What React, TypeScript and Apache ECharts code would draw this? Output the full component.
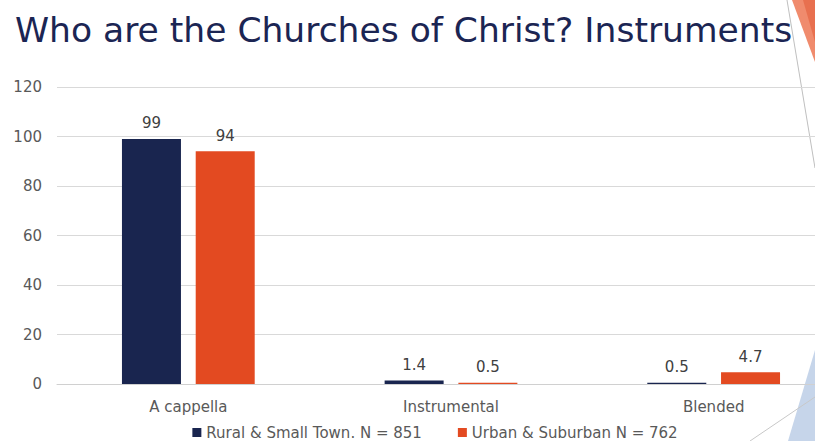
import React, { useEffect, useRef } from "react";
import * as echarts from "echarts";

const categories = ["A cappella", "Instrumental", "Blended"];
const seriesNames = ["Rural & Small Town. N = 851", "Urban & Suburban N = 762"];
const ruralValues = [99, 1.4, 0.5];
const urbanValues = [94, 0.5, 4.7];
const yTicks = { min: 0, max: 120, interval: 20 };
const titleText = "Who are the Churches of Christ? Instruments";

const NAVY = "#19254f";
const ORANGE = "#e34a21";
const FONT = "Tahoma, 'DejaVu Sans', Verdana, sans-serif";

export default function App() {
  const ref = useRef<HTMLDivElement>(null);
  useEffect(() => {
    if (!ref.current) return;
    const chart = echarts.init(ref.current, undefined, { renderer: "svg" });
    const labelStyle = { show: true, position: "top", distance: 8, fontFamily: FONT, fontSize: 15, color: "#404040" };
    chart.setOption({
      animation: false,
      backgroundColor: "#ffffff",
      title: {
        text: titleText,
        left: 15,
        top: 12,
        padding: 0,
        textStyle: { fontFamily: FONT, fontSize: 34.5, fontWeight: "normal", color: "#1b2553" },
      },
      grid: { left: 57, right: 25, top: 87, bottom: 57 },
      legend: {
        top: 420,
        left: "center",
        icon: "rect",
        itemWidth: 9,
        itemHeight: 9,
        itemGap: 36,
        textStyle: { fontFamily: FONT, fontSize: 15, color: "#595959" },
        data: seriesNames,
      },
      xAxis: {
        type: "category",
        data: categories,
        axisLine: { show: true, lineStyle: { color: "#d0d0d0" } },
        axisTick: { show: false },
        axisLabel: { fontFamily: FONT, fontSize: 15, color: "#595959", margin: 15 },
      },
      yAxis: {
        type: "value",
        min: yTicks.min,
        max: yTicks.max,
        interval: yTicks.interval,
        axisLine: { show: false },
        axisTick: { show: false },
        axisLabel: { fontFamily: FONT, fontSize: 15, color: "#595959", margin: 15 },
        splitLine: { lineStyle: { color: "#d9d9d9" } },
      },
      series: [
        {
          name: seriesNames[0],
          type: "bar",
          data: ruralValues,
          barWidth: 59,
          barGap: "25%",
          itemStyle: { color: NAVY },
          label: labelStyle,
        },
        {
          name: seriesNames[1],
          type: "bar",
          data: urbanValues,
          barWidth: 59,
          barGap: "25%",
          itemStyle: { color: ORANGE },
          label: labelStyle,
        },
      ],
      graphic: [
        { type: "polygon", z: 0, shape: { points: [[792, 0], [815, 0], [815, 62]] }, style: { fill: "#f08b6d" } },
        { type: "polygon", z: 0, shape: { points: [[803, 0], [815, 0], [815, 42]] }, style: { fill: "#e8704f" } },
        { type: "line", z: 0, shape: { x1: 787, y1: 0, x2: 815, y2: 168 }, style: { stroke: "#bfbfbf", lineWidth: 1 } },
        { type: "polygon", z: 0, shape: { points: [[815, 350], [815, 441], [788, 441]] }, style: { fill: "#c6d5ea" } },
        { type: "line", z: 0, shape: { x1: 750, y1: 441, x2: 815, y2: 397 }, style: { stroke: "#c8c8c8", lineWidth: 1 } },
      ],
    });
    return () => chart.dispose();
  }, []);
  return (
    <div style={{ position: "fixed", left: 0, top: 0, width: 815, height: 441, overflow: "hidden", background: "#fff" }}>
      <div ref={ref} style={{ width: 870, height: 441 }} />
    </div>
  );
}
